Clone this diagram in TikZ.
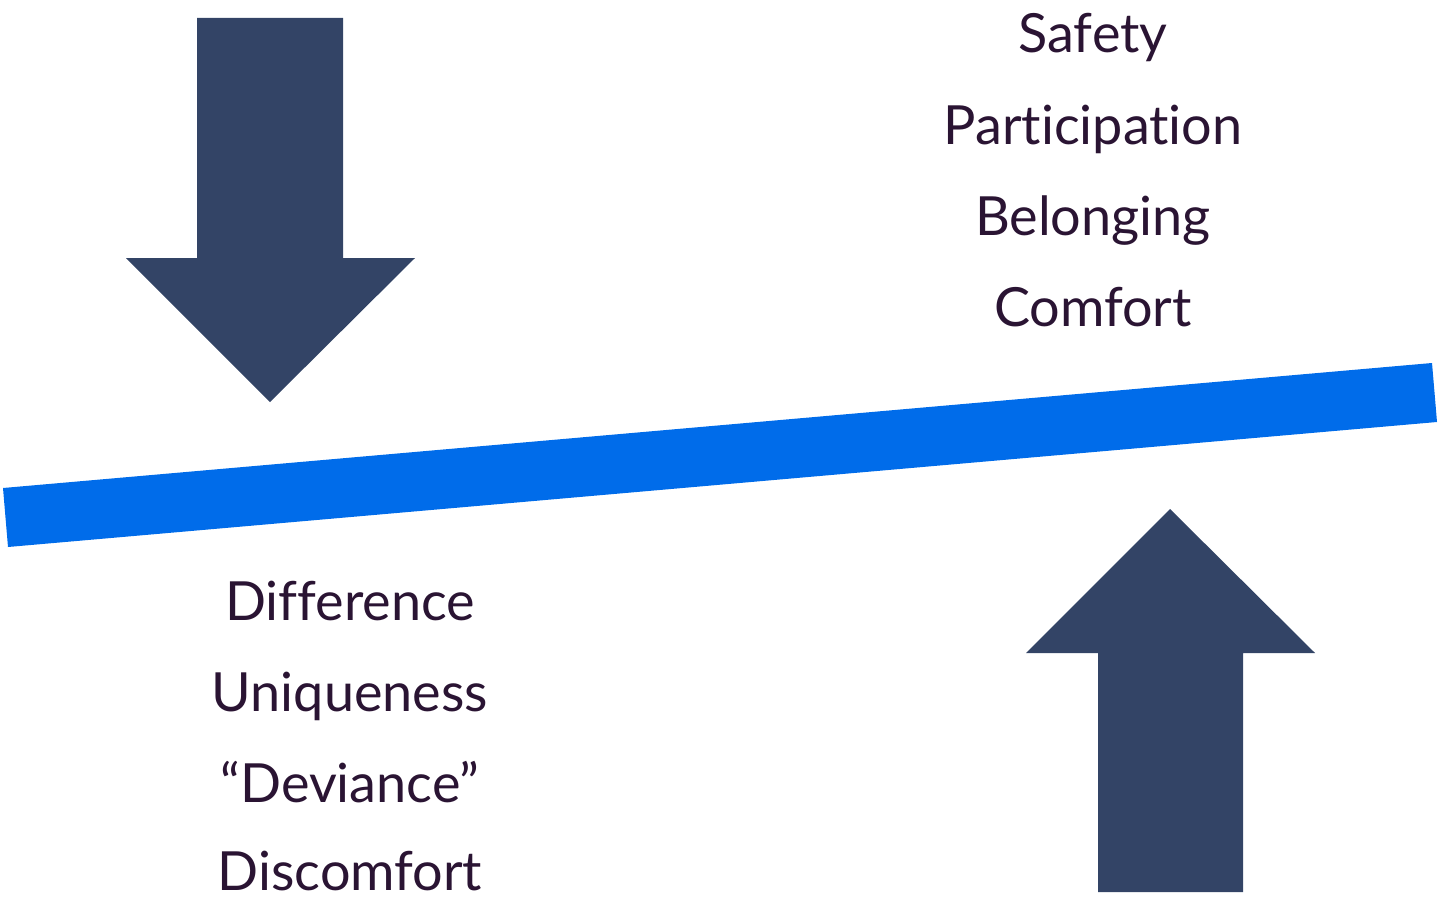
\documentclass[tikz,border=0pt]{standalone}
\usepackage{fontspec}
\setmainfont{Lato}[Ligatures=NoCommon]
\definecolor{arrowblue}{HTML}{334466}
\definecolor{beamblue}{HTML}{006CEA}
\definecolor{inkpurple}{HTML}{2A1433}
\begin{document}
\begin{tikzpicture}[x=0.75pt,y=-0.75pt,
  word/.style={anchor=base,text=inkpurple,inner sep=0pt,font=\fontsize{40.5}{48}\selectfont},
  bigarrow/.style={fill=arrowblue,draw=none}]
\useasboundingbox (0,0) rectangle (1441,899);
% downward arrow pressing on the left end
\fill[bigarrow] (197,18) -- (343,18) -- (343,258) -- (415,258) -- (270,402)
  -- (126,258) -- (197,258) -- cycle;
% upward arrow pushing the right end
\fill[bigarrow] (1098,892) -- (1243,892) -- (1243,653) -- (1315,653) -- (1170,509)
  -- (1026,653) -- (1098,653) -- cycle;
% tilted beam
\fill[beamblue] (3,488) -- (1432,363) -- (1437,422) -- (8,547) -- cycle;
% words above the beam
\node[word] (safety) at (1093,53) {Safety};
\node[word] (particip) at (1093,144) {Participation};
\node[word] (belong) at (1093,235) {Belonging};
\node[word] (comfort) at (1093,326) {Comfort};
% words below the beam
\node[word] (diff) at (350,620) {Difference};
\node[word] (unique) at (350,711) {Uniqueness};
\node[word] (deviance) at (350,802) {“Deviance”};
\node[word] (discomf) at (350,890) {Discomfort};
\end{tikzpicture}
\end{document}
